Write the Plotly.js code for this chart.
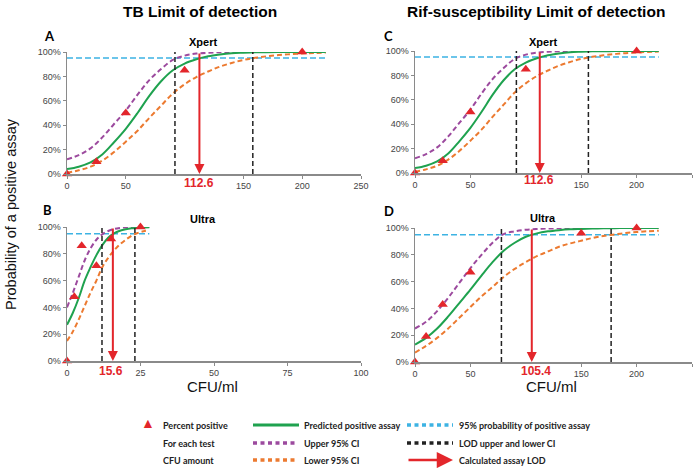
<!DOCTYPE html>
<html><head><meta charset="utf-8">
<script src="https://cdn.plot.ly/plotly-3.0.1.min.js"></script>
<style>html,body{margin:0;padding:0;background:#fff}#c{width:696px;height:468px}</style>
</head><body><div id="c"></div>
<script>
// ---------- data ----------
// Panels A and C (Xpert, TB and Rif): curve x grid
const gridXpert = [0,10,20,30,40,50,60,70,80,90,100,110,120,130,140,150,160,170,180,190,200,210,220];
const predA  = [4,6,9.5,16,26,37,50,64,76,85,90.5,94,96.5,98,99,99.4,99.7,99.8,99.9,100,100,100,100];
const upperA = [12,15.5,21,30,41,52,65,77,86,93.5,97,98.7,99.4,99.8,100,100,100,100,100,100,100,100,100];
const lowerA = [1,3,6,11,18,26.5,35.5,46,56,66,73.5,79.5,84,88,91,93.5,95.2,96.5,97.5,98.2,98.8,99.2,99.5];
const ptsAx = [0,25,50,100,200];
const ptsAy = [0,10,50,85,100];
const ciA = [91.8,158];
const lodA = 112.6;

const predC  = [4,6,9.5,16,26,37,50,64,76,85,90.5,94,96.5,98,99,99.4,99.7,99.8,99.9,100,100,100,100];
const upperC = [12,15.5,21,30,41,52,65,77,86,93.5,97,98.7,99.4,99.8,100,100,100,100,100,100,100,100,100];
const lowerC = [1,3,6,11,18,26.5,35.5,46,56,66,73.5,79.5,84,88,91,93.5,95.2,96.5,97.5,98.2,98.8,99.2,99.5];
const ptsCx = [0,25,50,100,200];
const ptsCy = [0,10,50,85,100];
const ciC = [91.5,156.5];
const lodC = 112.6;

// Panel B (Ultra TB)
const gridB  = [0,2,4,6,8,10,12,14,16,18,20,22,24,26,28];
const predB  = [27,36,47,60,70,79,86.5,92,95.3,97.2,98.3,99,99.4,99.7,99.8];
const upperB = [40,51,63,75,84,90.5,94.5,97,98.5,99.3,99.7,99.9,100,100,100];
const lowerB = [15,22,31,41,51,60,70,77,82.5,87,90.5,93.5,95.5,96.8,97.6];
const ptsBx = [0,2.5,5,10,15,25];
const ptsBy = [0,48,86,71,91,100];
const ciB = [11.9,23.1];
const lodB = 15.6;

// Panel D (Ultra Rif)
const gridD  = [0,10,20,30,40,50,60,70,80,90,100,110,120,130,140,150,160,170,180,190,200,210,220];
const predD  = [13,18,25,34,44,54,64.5,74.5,83,89,93.5,96,97.5,98.4,99,99.3,99.6,99.8,99.9,100,100,100,100];
const upperD = [25,30,38,48,59,70,80,89,95.5,97.5,98.7,99.3,99.6,99.8,100,100,100,100,100,100,100,100,100];
const lowerD = [7,12,18,25,33,41,49,56,63.5,69.5,74.5,79,82.5,86,88.5,90.5,92.5,94,95.2,96.2,97,97.6,98];
const ptsDx = [0,10,25,50,150,200];
const ptsDy = [0,19,43,67,96,100];
const ciD = [78,177];
const lodD = 105.4;

const level95 = 95;
const blueEnd = {A:220, B:28, C:220, D:220};

const xticksXpert = [0,50,150,200,250];
const xticksB = [0,25,50,75,100];
const yticks = [0,20,40,60,80,100];
const yticklabels = ['0%','20%','40%','60%','80%','100%'];

// ---------- styling ----------
const W=696,H=468;
const px = x => x/W, py = y => 1 - y/H;
const GREEN='#1fa24f', PURPLE='#9c4a9e', ORANGE='#ec7a30', BLUE='#3db3e3', BLACK='#222222', RED='#e3262b';
const AX='Liberation Sans, Arial, sans-serif';
const LEG='Lato, Open Sans, sans-serif';

const traces=[];
function panel(xa, ya, grid, pred, up, lo, ptx, pty, ci, end){
  const k={xaxis:xa, yaxis:ya, showlegend:false, hoverinfo:'skip'};
  traces.push(Object.assign({x:[0,end], y:[level95,level95], mode:'lines', line:{color:BLUE,width:1.5,dash:'6px,3px'}},k));
  traces.push(Object.assign({x:grid, y:up, mode:'lines', line:{color:PURPLE,width:2,dash:'5px,3px',shape:'spline'}},k));
  traces.push(Object.assign({x:grid, y:lo, mode:'lines', line:{color:ORANGE,width:2,dash:'5px,3px',shape:'spline'}},k));
  traces.push(Object.assign({x:grid, y:pred, mode:'lines', line:{color:GREEN,width:2,shape:'spline'}},k));
  ci.forEach(v=>traces.push(Object.assign({x:[v,v], y:[0,100], mode:'lines', line:{color:BLACK,width:1.5,dash:'5px,3px'}},k)));
  traces.push(Object.assign({x:ptx, y:pty, mode:'markers', cliponaxis:false, marker:{symbol:'triangle-up',size:9,color:RED}},k));
}
panel('x','y',  gridXpert,predA,upperA,lowerA,ptsAx,ptsAy,ciA,blueEnd.A);
panel('x2','y2',gridB,predB,upperB,lowerB,ptsBx,ptsBy,ciB,blueEnd.B);
panel('x3','y3',gridXpert,predC,upperC,lowerC,ptsCx,ptsCy,ciC,blueEnd.C);
panel('x4','y4',gridD,predD,upperD,lowerD,ptsDx,ptsDy,ciD,blueEnd.D);

function xax(dom, anchor, range, ticks){
  return {domain:dom, anchor:anchor, range:range, tickmode:'array', tickvals:ticks, ticktext:ticks.map(String),
    showgrid:false, zeroline:false, showline:true, linecolor:'#8a8a8a', linewidth:1.5,
    ticks:'outside', ticklen:3, tickcolor:'#8a8a8a', tickfont:{family:AX,size:9,color:'#444'}, fixedrange:true};
}
function yax(dom, anchor){
  return {domain:dom, anchor:anchor, range:[0,100], tickmode:'array', tickvals:yticks, ticktext:yticklabels,
    showgrid:false, zeroline:false, showline:true, linecolor:'#8a8a8a', linewidth:1.5,
    ticks:'outside', ticklen:3, tickcolor:'#8a8a8a', tickfont:{family:AX,size:9,color:'#444'}, fixedrange:true};
}

const ann=[];
function txt(t,x,y,size,color,bold,family,extra){
  ann.push(Object.assign({text:bold?'<b>'+t+'</b>':t, x:px(x), y:py(y), xref:'paper', yref:'paper',
    showarrow:false, font:{family:family||AX, size:size, color:color||'#000'}, xanchor:'center', yanchor:'middle'},extra||{}));
}
txt('TB Limit of detection',200,11,15.5,'#000',true);
txt('Rif-susceptibility Limit of detection',536,11,15.5,'#000',true);
txt('A',49,36,13,'#000',true,LEG);
txt('B',47,210,13,'#000',true,LEG);
txt('C',388,36,13,'#000',true,LEG);
txt('D',389,211,13,'#000',true,LEG);
txt('Xpert',203,42,11,'#000',true);
txt('Ultra',203,219,11,'#000',true);
txt('Xpert',543,42,11,'#000',true);
txt('Ultra',543,218,11,'#000',true);
txt('112.6',199,183,12,RED,true);
txt('15.6',111,371,12,RED,true);
txt('112.6',539,180,12,RED,true);
txt('105.4',536,371,12,RED,true);
txt('CFU/ml',213,386,15,'#111',false);
txt('CFU/ml',551,386,15,'#111',false);
txt('Probability of a positive assay',11,214,14.5,'#111',false,AX,{textangle:-90});

// LOD arrows in data coordinates
[['x','y',lodA],['x2','y2',lodB],['x3','y3',lodC],['x4','y4',lodD]].forEach(([xa,ya,v])=>{
  ann.push({xref:xa, yref:ya, axref:xa, ayref:ya, x:v, y:0, ax:v, ay:100, text:'', showarrow:true,
    arrowhead:2, arrowsize:1, arrowwidth:2, arrowcolor:RED, standoff:0, startstandoff:0});
});

// legend
const shapes=[];
const lt=(t,x,y)=>txt(t,x,y,9,'#222',true,LEG,{xanchor:'left'});
txt('▲',148,423,14,RED,false,AX);
lt('Percent positive',161,425); lt('For each test',161,443); lt('CFU amount',161,460);
function lline(x0,x1,y,color,dash,w){
  shapes.push({type:'line',xref:'paper',yref:'paper',x0:px(x0),x1:px(x1),y0:py(y),y1:py(y),line:{color:color,width:w,dash:dash}});
}
lline(253,299,425,GREEN,'solid',3); lt('Predicted positive assay',302,425);
lline(253,298,443,PURPLE,'4px,3.5px',3.5); lt('Upper 95% CI',302,443);
lline(253,298,460,ORANGE,'4px,3.5px',3.5); lt('Lower 95% CI',302,460);
lline(407,453,425,BLUE,'4px,3.5px',3.5); lt('95% probability of positive assay',457,425);
lline(407,453,443,BLACK,'4px,3.5px',3.5); lt('LOD upper and lower CI',457,443);
ann.push({xref:'paper',yref:'paper',x:px(453),y:py(460),ax:-46,ay:0,text:'',showarrow:true,
  arrowhead:2,arrowsize:1.3,arrowwidth:2.5,arrowcolor:RED,standoff:0});
lt('Calculated assay LOD',457,460);

const layout={
  width:W,height:H,margin:{l:0,r:0,t:0,b:0},paper_bgcolor:'#fff',plot_bgcolor:'rgba(0,0,0,0)',
  showlegend:false,
  xaxis: xax([px(67),px(361)],'y',[0,250],xticksXpert),
  yaxis: yax([py(174),py(52)],'x'),
  xaxis2:xax([px(67),px(361)],'y2',[0,100],xticksB),
  yaxis2:yax([py(361),py(227)],'x2'),
  xaxis3:xax([px(415),px(692)],'y3',[0,250],xticksXpert),
  yaxis3:yax([py(173),py(51)],'x3'),
  xaxis4:xax([px(415),px(692)],'y4',[0,250],xticksXpert),
  yaxis4:yax([py(362),py(228)],'x4'),
  annotations:ann, shapes:shapes
};
Plotly.newPlot('c',traces,layout,{staticPlot:true,displayModeBar:false});
</script></body></html>
